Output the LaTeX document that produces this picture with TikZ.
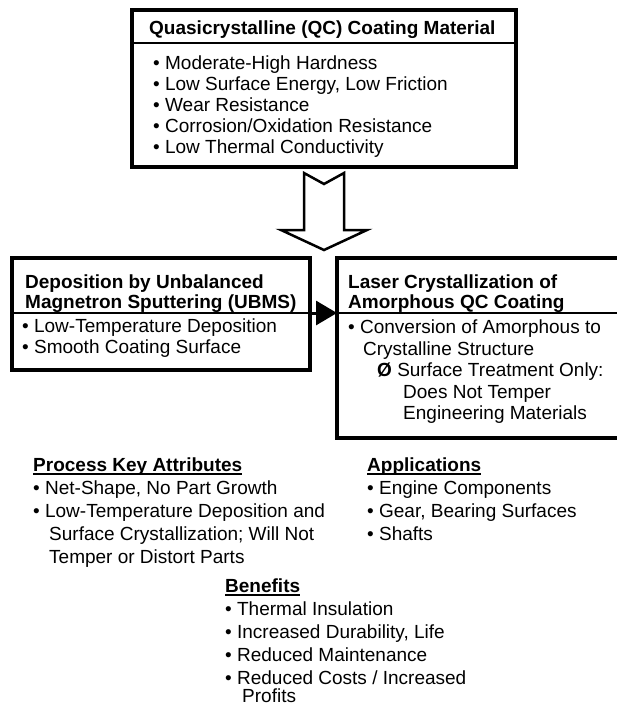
\documentclass[tikz,border=0pt]{standalone}
\usepackage{fontspec}
\setmainfont{Liberation Sans}
\usetikzlibrary{arrows.meta, positioning, calc}
\newcommand{\ulhead}[1]{\setbox0\hbox{\bfseries #1}\rlap{\rule[-2.6pt]{\wd0}{1.8pt}}\box0}
\tikzset{
  box/.style     = {rectangle, draw, line width=3.5pt, outer sep=0pt,
                    inner sep=0pt, anchor=north west},
  txt/.style     = {inner sep=0pt, anchor=north west, align=left,
                    font=\fontsize{19}{21}\selectfont},
  hdr/.style     = {txt, font=\fontsize{19}{20}\selectfont\bfseries},
  lst/.style     = {txt, font=\fontsize{19}{23}\selectfont},
  divline/.style = {line width=1.8pt},
  arr/.style     = {-{Triangle[length=21pt, width=24pt]}, line width=3pt},
  hollow/.style  = {line width=2.5pt, line join=miter},
}
\begin{document}
\begin{tikzpicture}[x=1pt, y=-1pt]
  \useasboundingbox (0,0) rectangle (616,707);

  \node[box, minimum width=384pt, minimum height=157pt] (qc)   at (132,10)  {};
  \node[box, minimum width=298pt, minimum height=112pt] (ubms) at (12,258)  {};
  \node[box, minimum width=282pt, minimum height=180pt] (lsr)  at (337,258) {};

  \node[hdr] (qchead) at (149,21) {Quasicrystalline (QC) Coating Material};
  \node[txt] (qcbody) at (153,56)
        {• Moderate-High Hardness\\• Low Surface Energy, Low Friction\\
         • Wear Resistance\\• Corrosion/Oxidation Resistance\\
         • Low Thermal Conductivity};

  \node[hdr] (ubmshead) at (25,275) {Deposition by Unbalanced\\Magnetron Sputtering (UBMS)};
  \node[txt] (ubmsbody) at (22,319) {• Low-Temperature Deposition\\• Smooth Coating Surface};

  \node[hdr] (lsrhead) at (348,275) {Laser Crystallization of\\Amorphous QC Coating};
  \node[txt, font=\fontsize{19}{21.5}\selectfont] (lsrbody) at (348,320)
        {• Conversion of Amorphous to\\\hspace*{15pt}Crystalline Structure\\
         \hspace*{29pt}\textbf{Ø} Surface Treatment Only:\\
         \hspace*{55pt}Does Not Temper\\\hspace*{55pt}Engineering Materials};

  \node[lst] (attr) at (33,458)
        {\ulhead{Process Key Attributes}\\• Net-Shape, No Part Growth\\
         • Low-Temperature Deposition and\\
         \hspace*{16pt}Surface Crystallization; Will Not\\
         \hspace*{16pt}Temper or Distort Parts};
  \node[lst] (apps) at (367,458)
        {\ulhead{Applications}\\• Engine Components\\• Gear, Bearing Surfaces\\• Shafts};
  \node[lst] (bene) at (225,579)
        {\ulhead{Benefits}\\• Thermal Insulation\\• Increased Durability, Life\\
         • Reduced Maintenance\\• Reduced Costs / Increased\\[-5pt]\hspace*{17pt}Profits};

  \coordinate (qcdiv)  at (0,43);
  \coordinate (lowdiv) at (0,313);

  \draw[divline] (qc.west |- qcdiv) -- (qc.east |- qcdiv);
  \draw[divline] (ubms.west |- lowdiv) -- (ubms.east |- lowdiv);
  \draw[divline] (lsr.west |- lowdiv) -- (lsr.east |- lowdiv);
  \draw[arr] (ubms.east |- lowdiv) -- (lsr.west |- lowdiv);
  \draw[hollow, shift={(qc.south)}] (-20,6) -- (0,17) -- (20,6) -- (20,63)
        -- (43,63) -- (0,83) -- (-43,63) -- (-20,63) -- cycle;

\end{tikzpicture}
\end{document}
